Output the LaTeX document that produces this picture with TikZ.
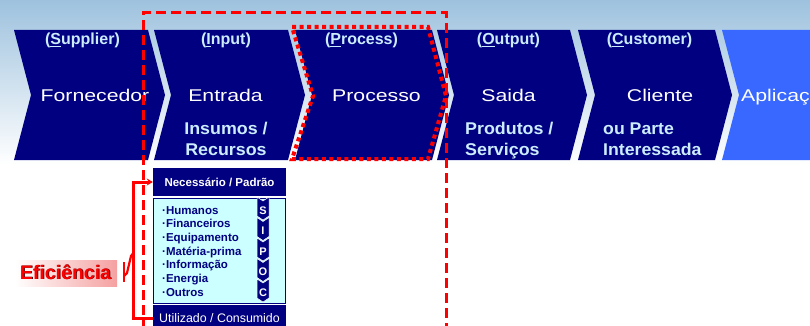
\documentclass[tikz,border=0pt]{standalone}
\usepackage{fontspec}
\setmainfont{Liberation Sans}
\usetikzlibrary{arrows.meta}
\definecolor{sipnavy}{RGB}{0,0,128}
\definecolor{aplblue}{RGB}{56,104,255}
\definecolor{lbltxt}{RGB}{204,236,255}
\definecolor{cyanbox}{RGB}{204,255,255}
\definecolor{redl}{RGB}{255,0,0}
\definecolor{bgtop}{RGB}{158,194,222}
\definecolor{pinkbg}{RGB}{245,160,160}
\newcommand\sipchev[3]{%
  \fill[#3] (#1,30) -- (#2,30) -- ({#2+17},95) -- (#2,160) -- (#1,160) -- ({#1+17},95) -- cycle;}
\tikzset{
  toplbl/.style={text=lbltxt, font=\fontsize{16}{18}\selectfont\bfseries, anchor=base, inner sep=0pt},
  mainlbl/.style={text=white, font=\fontsize{17}{19}\selectfont, anchor=base, inner sep=0pt},
  sublbl/.style={text=lbltxt, font=\fontsize{17}{19}\selectfont\bfseries, anchor=base, inner sep=0pt},
  listitem/.style={text=sipnavy, font=\fontsize{11.5}{13}\selectfont\bfseries, anchor=base west, inner sep=0pt},
  sipletter/.style={text=white, font=\fontsize{11}{13}\selectfont\bfseries, anchor=base, inner sep=0pt},
  boxtxt/.style={text=white, font=\fontsize{11.5}{13}\selectfont\bfseries, anchor=base, inner sep=0pt},
  efic/.style={font=\fontsize{19.5}{22}\selectfont\bfseries, anchor=base, inner sep=0pt},
  redline/.style={redl, line width=3pt},
}
\begin{document}
\begin{tikzpicture}[x=1pt,y=-1pt]
\useasboundingbox (0,0) rectangle (810,326);
\clip (0,0) rectangle (810,326);
\fill[white] (0,0) rectangle (810,326);
\shade[top color=bgtop, bottom color=white] (0,0) rectangle (810,165);
% chevrons
\sipchev{14}{148}{sipnavy}
\sipchev{154}{288}{sipnavy}
\sipchev{295}{432}{sipnavy}
\sipchev{437}{570}{sipnavy}
\sipchev{578}{715}{sipnavy}
\fill[aplblue] (722,30) -- (815,30) -- (815,160) -- (722,160) -- (739,95) -- cycle;
% top labels
\node[toplbl] (t1) at (82.5,45) {(\underline{S}upplier)};
\node[toplbl] (t2) at (226,45) {(\underline{I}nput)};
\node[toplbl] (t3) at (361.5,45) {(\underline{P}rocess)};
\node[toplbl] (t4) at (508.5,45) {(\underline{O}utput)};
\node[toplbl] (t5) at (649.5,45) {(\underline{C}ustomer)};
% main labels
\node[mainlbl] (m1) at (95,102) {\scalebox{1.25}[1]{Fornecedor}};
\node[mainlbl] (m2) at (225.5,102) {\scalebox{1.25}[1]{Entrada}};
\node[mainlbl] (m3) at (376.5,102) {\scalebox{1.25}[1]{Processo}};
\node[mainlbl] (m4) at (508.5,102) {\scalebox{1.25}[1]{Saida}};
\node[mainlbl] (m5) at (660,102) {\scalebox{1.25}[1]{Cliente}};
\node[mainlbl, anchor=base west] (m6) at (741,102) {\scalebox{1.25}[1]{Aplicação}};
% sub labels
\node[sublbl] (s1) at (226,134) {\scalebox{1.05}[1]{Insumos /}};
\node[sublbl] (s2) at (226,155) {\scalebox{1.05}[1]{Recursos}};
\node[sublbl, anchor=base west] (s3) at (465,134) {\scalebox{1.05}[1]{Produtos /}};
\node[sublbl, anchor=base west] (s4) at (465,155) {\scalebox{1.05}[1]{Serviços}};
\node[sublbl, anchor=base west] (s5) at (603,134) {\scalebox{1.04}[1]{ou Parte}};
\node[sublbl, anchor=base west] (s6) at (603,155) {\scalebox{1.04}[1]{Interessada}};
% lower boxes
\node[fill=sipnavy, minimum width=133pt, minimum height=28pt, inner sep=0pt] (nbox) at (219.5,182) {};
\node[boxtxt] (ntxt) at (219.5,186) {Necessário / Padrão};
\node[draw=sipnavy, fill=cyanbox, line width=1pt, minimum width=132pt, minimum height=105pt, inner sep=0pt] (cbox) at (219.5,250.5) {};
\foreach \t [count=\k from 0] in {Humanos,Financeiros,Equipamento,Matéria-prima,Informação,Energia,Outros}{
  \node[listitem] (li\k) at (162,{214+13.7*\k}) {·\t};
}
\foreach \l [count=\k from 0] in {S,I,P,O,C}{
  \pgfmathsetmacro\tt{197+20.5*\k}
  \fill[sipnavy, draw=white, line width=0.5pt] (257,\tt) -- (263,\tt+4) -- (269,\tt) -- (269,\tt+19) -- (263,\tt+23) -- (257,\tt+19) -- cycle;
  \node[sipletter] (sp\k) at (263,\tt+17) {\l};
}
\node[fill=sipnavy, minimum width=133pt, minimum height=26pt, inner sep=0pt] (ubox) at (219.5,318) {};
\node[text=white, font=\fontsize{12.4}{14}\selectfont, anchor=base, inner sep=0pt] (utxt) at (219.5,322) {Utilizado / Consumido};
% Eficiencia label
\fill[left color=white, right color=pinkbg] (15,260) rectangle (117,286);
\node[efic, text=black!75!red] (efs) at (66.3,279.8) {Eficiência};
\node[efic, text=redl] (ef) at (65.5,279) {Eficiência};
% red connector
\draw[redline, -{Stealth[length=6pt,width=7pt]}] (ubox.west) -- ++(-19,0) |- (nbox.west);
\draw[redl, line width=2.2pt] (124,262) -- (124,282);
\draw[redl, line width=2.2pt, line join=round] (124,276) -- (127,273) -- (131,256) -- (134,252);
% dashed and dotted frames
\draw[redline, dash pattern=on 10pt off 5pt] (143,330) -- (143,13) -- (446,13) -- (446,330);
\draw[redl, line width=4pt, dash pattern=on 4pt off 3.5pt] (292,27) -- (428,27) -- (446,96) -- (428,159) -- (292,159) -- (313,96) -- cycle;
\end{tikzpicture}
\end{document}
